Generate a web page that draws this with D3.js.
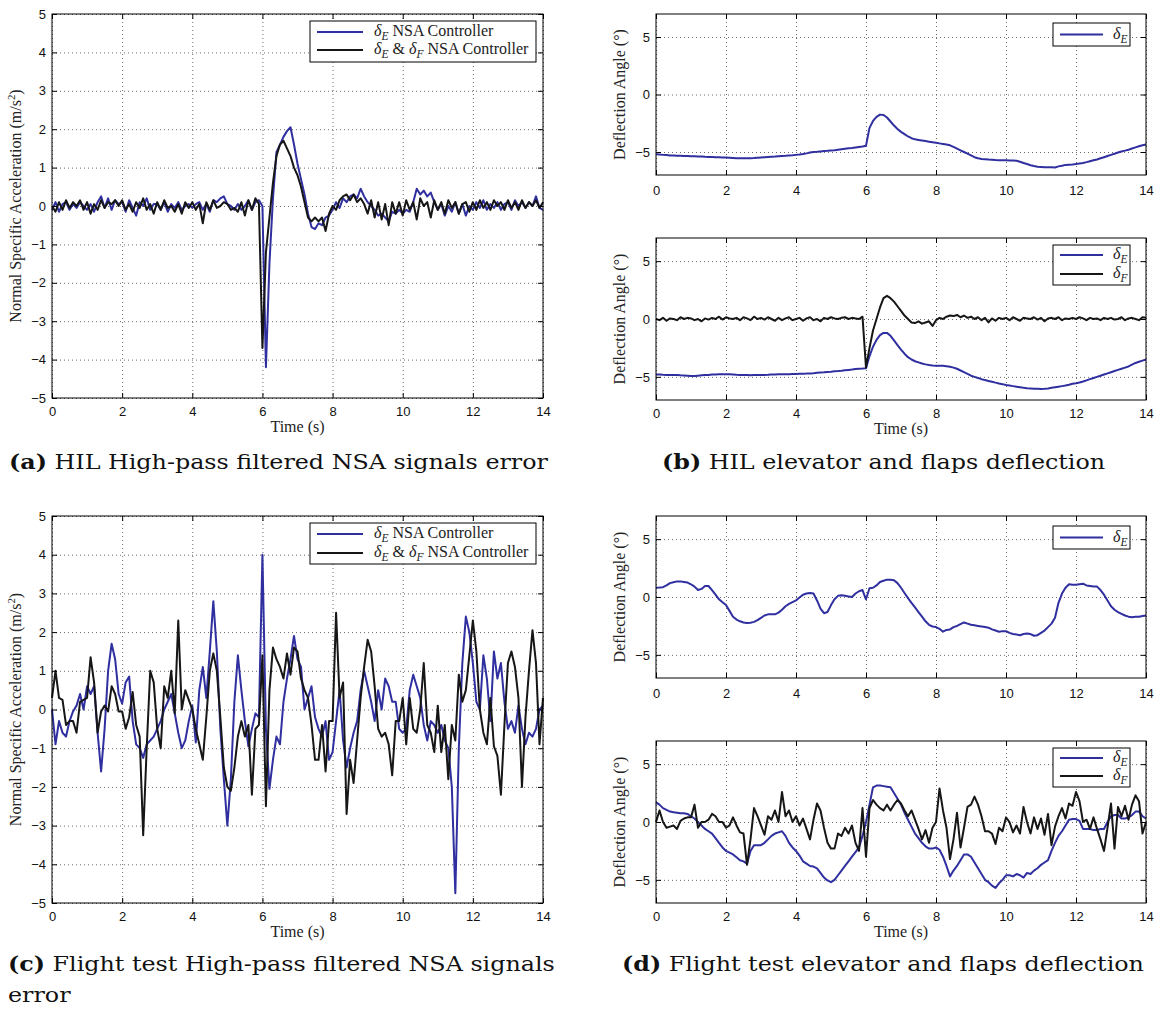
<!DOCTYPE html>
<html>
<head>
<meta charset="utf-8">
<script src="https://cdn.jsdelivr.net/npm/d3@7"></script>
<style>
  body { margin: 0; background: #fff; }
  svg { display: block; }
  .axis text { font-family: "Liberation Sans", Arial, sans-serif; font-size: 13px; fill: #111; }
  .axis line { stroke: #000; }
  .grid line { stroke: #6a6a6a; stroke-dasharray: 1,3; stroke-width: 1; }
  .lab { font-family: "Liberation Serif", "Times New Roman", serif; font-size: 16px; fill: #222; }
  .cap { font-family: "DejaVu Serif", serif; font-size: 20px; fill: #111; }
</style>
</head>
<body>
<svg id="fig" width="1160" height="1009"></svg>
<script>
// time axis: samples every 0.1 s from 0 to 14 s
const time = d3.range(141).map(i => i / 10);
const xTicks = [0, 2, 4, 6, 8, 10, 12, 14];

// (a) HIL high-pass filtered NSA error
const aBlue = [
  -0.1, 0.1, -0.15, 0.05, 0.1, -0.1, 0.05, -0.05, 0.1, 0.0,
  -0.1, 0.05, -0.15, 0.1, 0.25, -0.05, 0.2, -0.1, 0.15, 0.05,
  0.1, -0.15, 0.15, -0.05, -0.25, 0.1, 0.0, 0.2, -0.1, 0.05,
  0.05, -0.1, 0.1, -0.15, 0.05, -0.05, 0.1, -0.1, 0.0, 0.05,
  -0.05, 0.05, 0.1, -0.1, 0.05, -0.15, 0.15, 0.1, 0.2, 0.25,
  0.05, 0.0, -0.1, 0.05, -0.1, 0.0, 0.15, -0.1, 0.1, 0.15,
  0.0, -4.2, -1.5, 0.2, 1.4, 1.6, 1.8, 1.95, 2.05, 1.6,
  1.1, 0.7, 0.3, -0.2, -0.55, -0.6, -0.45, -0.5, -0.3, -0.25,
  -0.1, 0.1, -0.05, 0.2, 0.1, 0.25, 0.3, 0.2, 0.45, 0.25,
  0.1, 0.0, -0.1, -0.25, -0.2, -0.3, -0.4, -0.15, -0.2, -0.1,
  -0.2, -0.1, -0.15, 0.1, 0.45, 0.3, 0.4, 0.25, 0.35, 0.1,
  -0.1, 0.05, -0.25, 0.0, -0.15, 0.1, -0.2, 0.05, -0.25, 0.0,
  -0.1, 0.1, -0.05, 0.15, -0.1, 0.05, -0.05, 0.1, -0.1, 0.05,
  0.1, -0.1, 0.15, 0.0, 0.1, -0.05, 0.1, 0.0, 0.25, -0.05,
  -0.1
];
const aBlack = [
  0.0, -0.15, 0.1, -0.1, 0.15, -0.05, 0.1, 0.0, 0.15, -0.1,
  0.1, -0.2, 0.05, -0.1, 0.15, -0.05, 0.1, 0.05, 0.15, 0.0,
  0.15, -0.1, 0.05, -0.15, 0.1, -0.05, 0.2, -0.1, 0.05, -0.2,
  0.1, -0.1, 0.15, -0.05, 0.0, -0.15, 0.05, -0.2, 0.1, -0.05,
  0.1, -0.1, 0.05, -0.45, 0.1, -0.1, 0.15, -0.05, 0.0, 0.1,
  0.05, -0.1, -0.05, -0.15, 0.1, -0.25, 0.15, -0.1, 0.2, 0.05,
  -3.7, -1.2, -0.3, 0.6, 1.3, 1.6, 1.7, 1.5, 1.3, 1.0,
  0.8, 0.5, 0.1, -0.3, -0.4, -0.3, -0.4, -0.3, -0.65, -0.2,
  0.0, -0.1, 0.15, 0.25, 0.3, 0.15, 0.3, 0.1, 0.2, 0.05,
  -0.2, 0.15, -0.3, 0.1, -0.35, 0.05, -0.5, 0.1, -0.2, 0.1,
  -0.25, 0.15, -0.1, 0.1, -0.35, 0.2, 0.0, 0.1, -0.3, 0.15,
  -0.1, 0.1, -0.2, 0.15, -0.05, 0.1, -0.2, 0.05, 0.1, -0.15,
  0.1, -0.1, 0.15, -0.05, 0.1, -0.1, 0.15, 0.0, 0.1, -0.1,
  0.15, -0.05, 0.1, -0.1, 0.15, -0.05, 0.1, 0.0, 0.15, -0.05,
  0.1
];

// (b) HIL elevator / flaps deflection
const bTopElev = [
  -5.2, -5.22, -5.25, -5.27, -5.3, -5.3, -5.32, -5.33, -5.35, -5.35,
  -5.37, -5.38, -5.4, -5.4, -5.42, -5.43, -5.44, -5.45, -5.46, -5.47,
  -5.48, -5.5, -5.52, -5.55, -5.55, -5.55, -5.54, -5.54, -5.53, -5.5,
  -5.48, -5.46, -5.44, -5.42, -5.4, -5.37, -5.35, -5.33, -5.3, -5.28,
  -5.25, -5.22, -5.18, -5.12, -5.05, -5.0, -4.98, -4.95, -4.92, -4.9,
  -4.87, -4.84, -4.8, -4.76, -4.72, -4.68, -4.65, -4.6, -4.56, -4.52,
  -4.45, -2.9, -2.3, -1.95, -1.75, -1.78, -2.0, -2.35, -2.7, -3.0,
  -3.25, -3.45, -3.65, -3.8, -3.9, -3.95, -4.0, -4.05, -4.1, -4.15,
  -4.2, -4.25, -4.3, -4.35, -4.42, -4.55, -4.7, -4.85, -5.0, -5.15,
  -5.3, -5.45, -5.55, -5.6, -5.62, -5.65, -5.67, -5.7, -5.72, -5.72,
  -5.72, -5.73, -5.74, -5.76, -5.85, -5.95, -6.05, -6.15, -6.22, -6.28,
  -6.3, -6.32, -6.33, -6.33, -6.35, -6.25, -6.2, -6.12, -6.1, -6.08,
  -6.05, -6.0, -5.95, -5.88, -5.8, -5.72, -5.65, -5.55, -5.45, -5.35,
  -5.25, -5.15, -5.05, -4.95, -4.88, -4.8, -4.7, -4.6, -4.5, -4.42,
  -4.35
];
const bBotElev = [
  -4.8, -4.8, -4.82, -4.83, -4.83, -4.85, -4.85, -4.87, -4.88, -4.9,
  -4.92, -4.93, -4.9, -4.87, -4.85, -4.83, -4.8, -4.8, -4.78, -4.77,
  -4.77, -4.78, -4.8, -4.82, -4.83, -4.85, -4.85, -4.86, -4.85, -4.85,
  -4.84, -4.83, -4.82, -4.8, -4.8, -4.78, -4.78, -4.77, -4.77, -4.76,
  -4.75, -4.74, -4.73, -4.72, -4.7, -4.68, -4.65, -4.62, -4.6, -4.57,
  -4.55, -4.52, -4.5, -4.47, -4.43, -4.4, -4.37, -4.33, -4.3, -4.28,
  -4.25, -3.2, -2.4, -1.8, -1.4, -1.2, -1.2, -1.45, -1.85, -2.25,
  -2.65, -3.0, -3.3, -3.5, -3.65, -3.75, -3.85, -3.92, -3.98, -4.02,
  -4.05, -4.05, -4.05, -4.08, -4.12, -4.2, -4.3, -4.45, -4.6, -4.75,
  -4.9, -5.0, -5.1, -5.2, -5.28, -5.35, -5.42, -5.5, -5.57, -5.63,
  -5.7, -5.75, -5.8, -5.85, -5.9, -5.95, -5.98, -6.0, -6.02, -6.03,
  -6.05, -6.03, -6.0, -5.95, -5.9, -5.85, -5.8, -5.75, -5.68, -5.6,
  -5.55, -5.48, -5.4, -5.3, -5.2, -5.1, -5.0, -4.9, -4.8, -4.7,
  -4.6, -4.5, -4.4, -4.3, -4.2, -4.1, -3.95, -3.8, -3.7, -3.6,
  -3.5
];
const bBotFlap = [
  0.0, -0.1, 0.1, -0.15, 0.05, 0.0, -0.1, 0.15, 0.0, 0.1,
  0.05, -0.1, 0.0, -0.2, 0.05, -0.05, 0.1, 0.0, 0.2, -0.05,
  0.15, 0.05, 0.0, 0.1, -0.1, 0.15, 0.05, -0.1, 0.2, 0.0,
  0.1, -0.05, 0.15, 0.0, -0.15, 0.1, -0.1, 0.05, 0.15, -0.1,
  0.0, 0.1, -0.15, 0.05, 0.15, -0.1, 0.0, -0.2, 0.1, 0.0,
  0.15, 0.05, 0.0, 0.1, 0.15, 0.0, 0.1, 0.05, 0.0, 0.2,
  -4.2, -2.5, -1.0, 0.0, 1.0, 1.8, 2.0, 1.8, 1.5, 1.1,
  0.7, 0.3, 0.0, -0.3, -0.35, -0.2, -0.4, -0.3, -0.2, -0.6,
  -0.1, 0.1, 0.0, 0.2, 0.3, 0.25, 0.35, 0.15, 0.3, 0.1,
  0.2, 0.0, 0.15, -0.1, 0.1, -0.3, 0.05, -0.15, 0.1, 0.0,
  0.1, -0.1, 0.15, 0.0, -0.15, 0.1, 0.05, 0.0, 0.15, -0.05,
  0.1, -0.2, 0.05, 0.1, 0.0, 0.15, -0.1, 0.05, 0.0, 0.1,
  0.0, 0.15, 0.05, -0.1, 0.1, 0.0, 0.05, -0.1, 0.1, 0.0,
  0.1, -0.05, 0.0, 0.15, -0.1, 0.05, 0.1, 0.0, -0.1, 0.15,
  0.1
];

// (c) flight test high-pass filtered NSA error
const cBlue = [
  0.0, -0.9, -0.3, -0.6, -0.7, -0.3, -0.05, 0.1, 0.4, 0.0,
  0.6, 0.4, 0.6, -0.6, -1.6, -0.5, 1.0, 1.7, 1.3, 0.4,
  0.15, 0.7, 0.85, -0.3, -0.9, -1.0, -1.25, -0.9, -0.8, -0.7,
  -0.5, -0.3, 0.0, 0.2, 0.4, -0.1, -0.6, -1.0, -0.8, -0.3,
  0.1, -0.85, 0.5, 1.1, 0.3, 1.5, 2.8, 1.5, -0.5, -1.8,
  -3.0, -1.8, 0.2, 1.4, 0.5, -0.3, -0.95, -0.5, -0.1, -0.2,
  4.0, -0.5, -2.05, -1.3, -0.7, -0.9, 0.2, 0.8, 1.3, 1.9,
  1.3, 1.1, 0.0, 0.3, 0.6, -0.2, -0.5, -0.7, -0.3, -1.3,
  -1.1, -0.3, 0.5, -0.8, -1.5, -1.0, -0.6, -0.3, 0.5, 1.0,
  0.6, 0.2, -0.3, 0.5, 0.0, 0.8, 0.6, 0.2, 0.2, -0.5,
  -0.6, -0.5, 0.5, 0.9, 0.6, 0.3, -0.4, -0.8, -0.3, -0.4,
  -0.6, -0.4, -0.8, -1.0, -2.0, -4.75, -1.0, 1.2, 2.4, 2.0,
  1.2, 0.2, 0.0, 1.4, 0.8, -0.3, 1.5, 0.8, 1.2, 0.2,
  -0.5, -0.3, -0.6, 0.1, -0.5, -0.9, -0.6, -0.7, -0.5, 0.0,
  0.1
];
const cBlack = [
  0.3, 1.0, 0.3, 0.25, -0.4, -0.3, -0.3, -0.6, 0.2, 0.25,
  0.3, 1.35, 0.7, -0.6, -0.05, 0.1, -0.05, 0.6, 0.4, -0.05,
  -0.05, -0.5, -0.2, 0.45, -0.4, -0.7, -3.25, -1.0, 1.0, 0.7,
  -0.5, -1.0, 0.6, 0.3, 1.0, -0.1, 2.3, 0.0, 0.5, 0.25,
  0.0, -0.5, -0.9, -1.3, -0.2, 1.0, 1.45, 1.0, -0.2, -1.5,
  -2.0, -2.1, -1.5, -0.7, -0.3, -0.7, -0.4, -2.2, -0.5, -0.4,
  1.4, -2.5, 0.5, 1.6, 1.3, 1.1, 0.8, 1.45, 0.9, 1.6,
  1.5, 0.8, 0.5, 0.3, -0.4, -1.3, -1.3, -0.4, -1.6, -0.3,
  -0.3, 2.5, 0.3, 0.7, -2.7, -1.3, -1.9, -0.8, 0.3, 1.1,
  1.8, 1.5, 0.6, -0.5, -0.7, -0.6, -0.9, -1.7, -0.3, -0.3,
  0.3, -0.9, 0.3, -0.5, -0.6, 0.0, 1.2, -0.4, -0.6, -1.1,
  0.1, -1.1, -0.4, -1.8, -0.4, -0.8, 0.9, 0.2, 0.5, 1.4,
  2.3, 1.5, 0.0, -0.6, -0.9, 0.3, -0.95, -1.2, -2.2, -0.4,
  1.2, 1.5, 1.1, 0.3, -2.0, -0.2, 1.0, 2.05, 1.2, -0.9,
  0.3
];

// (d) flight test elevator / flaps deflection
const dTopElev = [
  0.8, 0.82, 0.85, 1.0, 1.2, 1.28, 1.35, 1.35, 1.3, 1.25,
  1.1, 0.9, 0.6, 0.7, 0.95, 0.95, 0.6, 0.2, -0.2, -0.45,
  -0.7, -1.2, -1.7, -1.95, -2.1, -2.2, -2.25, -2.22, -2.15, -2.0,
  -1.8, -1.6, -1.5, -1.48, -1.5, -1.35, -1.1, -0.8, -0.6, -0.45,
  -0.3, -0.05, 0.2, 0.3, 0.35, 0.3, -0.3, -1.0, -1.4, -1.3,
  -0.7, -0.2, 0.1, 0.15, 0.1, 0.05, 0.0, 0.3, 0.5, 0.6,
  -0.2, 0.75, 0.8, 1.0, 1.3, 1.4, 1.5, 1.5, 1.45, 1.2,
  0.8, 0.35, -0.1, -0.5, -0.9, -1.3, -1.7, -2.1, -2.4, -2.55,
  -2.6, -2.75, -3.0, -2.85, -2.8, -2.6, -2.5, -2.35, -2.2, -2.3,
  -2.4, -2.45, -2.5, -2.55, -2.6, -2.65, -2.8, -2.9, -3.0, -2.95,
  -2.95, -3.1, -3.2, -3.25, -3.3, -3.2, -3.15, -3.2, -3.35, -3.3,
  -3.1, -2.9, -2.6, -2.3, -1.8, -0.5, 0.3, 0.8, 1.1, 1.05,
  1.05, 1.1, 1.15, 1.0, 0.95, 0.9, 0.9, 0.6, 0.2, -0.3,
  -0.8, -1.1, -1.3, -1.45, -1.6, -1.7, -1.75, -1.7, -1.7, -1.65,
  -1.6
];
const dBotElev = [
  1.7, 1.5, 1.2, 1.05, 0.9, 0.85, 0.8, 0.75, 0.75, 0.7,
  0.5, 0.3, 0.0, -0.3, -0.6, -0.8, -1.0, -1.4, -1.8, -2.2,
  -2.5, -2.65, -2.8, -3.05, -3.3, -3.4, -3.6, -2.5, -2.0, -2.0,
  -2.0, -1.8, -1.5, -1.2, -1.0, -0.9, -0.8, -1.2, -1.8, -2.2,
  -2.5, -2.9, -3.4, -3.6, -3.8, -3.85, -4.0, -4.4, -4.8, -5.05,
  -5.2, -5.0, -4.6, -4.2, -3.8, -3.4, -3.0, -2.6, -2.2, -1.2,
  0.0, 1.5, 3.0, 3.15, 3.15, 3.1, 3.05, 3.0, 2.5, 2.0,
  1.5, 0.8, 0.2, -0.4, -1.0, -1.4, -1.8, -2.1, -2.3, -2.3,
  -2.2, -2.4, -3.0, -3.8, -4.7, -4.2, -3.8, -3.3, -2.8, -2.8,
  -3.0, -3.5, -4.0, -4.5, -5.0, -5.2, -5.5, -5.7, -5.3, -5.0,
  -4.6, -4.6, -4.7, -4.5, -4.6, -4.8, -4.4, -4.5, -4.2, -4.0,
  -3.7, -3.5, -3.3, -2.5, -1.8, -1.2, -0.8, -0.3, 0.2, 0.25,
  0.25, 0.1, -0.6, -0.6, -0.6, -0.7, -0.7, -0.6, -0.6, 0.0,
  0.5, 0.6, 0.6, 0.3, 0.3, 0.4, 0.6, 0.9, 0.9, 0.5,
  0.3
];
const dBotFlap = [
  0.0, 1.0, 0.0, -0.5, -0.4, -0.3, -0.6, 0.1, 0.3, 0.4,
  0.4, 1.5, -0.5, 0.0, 0.0, 0.2, 0.7, 0.5, 0.0, 0.0,
  -0.5, -0.3, 0.4, -0.3, -0.9, -1.0, -3.7, -1.5, 1.2, 0.5,
  -0.3, -1.1, 0.5, 0.2, 1.0, 0.0, 2.6, 0.5, 1.0, 0.0,
  0.5, -0.3, 0.3, -0.6, -1.5, 0.2, 1.6, 1.0, -0.5, -1.8,
  -2.3, -2.3, -1.0, -1.2, -0.5, -1.0, -0.3, -1.8, -2.5, 1.2,
  -3.0, 1.2, 1.9, 1.5, 1.2, 1.0, 1.5, 1.0, 1.5, 1.9,
  1.6, 1.0, 0.5, 1.0, 0.2, -0.6, -1.5, -0.7, -1.8, -0.5,
  0.0, 2.9, 1.0, -0.5, -3.2, -1.5, 0.8, -2.2, -0.5, 1.3,
  1.5, 2.2, 1.5, 0.5, -0.8, -0.8, -1.0, -1.9, -0.5, -0.8,
  0.4, 0.0, -0.9, -0.3, -1.0, 1.3, 0.0, -1.0, 0.4, -0.6,
  0.3, -1.1, 0.7, -2.0, -0.4, 0.5, 1.2, 0.3, 1.6, 1.4,
  2.6, 1.8, 0.0, 0.2, -0.6, 0.4, -0.6, -1.5, -2.5, -0.5,
  1.6, -2.3, 1.3, 0.5, 1.4, 0.2, 1.5, 2.3, 1.8, -1.0,
  0.0
];

const BLUE = "#2f2fa0";
const BLACK = "#161616";

// legend label pieces: [text, kind]  kind: "i" italic, "sub" italic subscript
const lblE = [["δ", "i"], ["E", "sub"]];
const lblF = [["δ", "i"], ["F", "sub"]];
const lblNsaE = [["δ", "i"], ["E", "sub"], [" NSA Controller", ""]];
const lblNsaEF = [["δ", "i"], ["E", "sub"], [" & ", ""], ["δ", "i"], ["F", "sub"], [" NSA Controller", ""]];

const accLabel = [["Normal Specific Acceleration (m/s", ""], ["2", "sup"], [")", ""]];
const angLabel = [["Deflection Angle (°)", ""]];

const panels = [
  { left: 52, top: 14, width: 491, height: 384, yDomain: [-5, 5], yTicks: d3.range(-5, 6), xPad: 9,
    series: [{ v: aBlue, c: BLUE }, { v: aBlack, c: BLACK }], ylabel: accLabel, xlabel: true,
    legend: { x: 258, y: 7, w: 226, h: 41, rows: [18, 36], lx: [265, 311], tx: 322, items: [[lblNsaE, BLUE], [lblNsaEF, BLACK]] } },
  { left: 656, top: 14, width: 490, height: 161, yDomain: [-7, 7], yTicks: [-5, 0, 5], xPad: 11,
    series: [{ v: bTopElev, c: BLUE }], ylabel: angLabel, xlabel: false,
    legend: { x: 397, y: 9, w: 77, h: 23, rows: [20.5], lx: [404, 447], tx: 457, items: [[lblE, BLUE]] } },
  { left: 656, top: 238, width: 490, height: 162, yDomain: [-7, 7], yTicks: [-5, 0, 5], xPad: 9,
    series: [{ v: bBotElev, c: BLUE }, { v: bBotFlap, c: BLACK }], ylabel: angLabel, xlabel: true,
    legend: { x: 397, y: 7, w: 77, h: 40, rows: [17, 36], lx: [404, 447], tx: 457, items: [[lblE, BLUE], [lblF, BLACK]] } },
  { left: 52, top: 516, width: 491, height: 387, yDomain: [-5, 5], yTicks: d3.range(-5, 6), xPad: 9,
    series: [{ v: cBlue, c: BLUE }, { v: cBlack, c: BLACK }], ylabel: accLabel, xlabel: true,
    legend: { x: 258, y: 7, w: 226, h: 41, rows: [18, 37], lx: [265, 311], tx: 322, items: [[lblNsaE, BLUE], [lblNsaEF, BLACK]] } },
  { left: 656, top: 516, width: 490, height: 162, yDomain: [-7, 7], yTicks: [-5, 0, 5], xPad: 11,
    series: [{ v: dTopElev, c: BLUE }], ylabel: angLabel, xlabel: false,
    legend: { x: 397, y: 10, w: 77, h: 23, rows: [21.5], lx: [404, 447], tx: 457, items: [[lblE, BLUE]] } },
  { left: 656, top: 741, width: 490, height: 162, yDomain: [-7, 7], yTicks: [-5, 0, 5], xPad: 9,
    series: [{ v: dBotElev, c: BLUE }, { v: dBotFlap, c: BLACK }], ylabel: angLabel, xlabel: true,
    legend: { x: 397, y: 7, w: 77, h: 39, rows: [17, 35], lx: [404, 447], tx: 457, items: [[lblE, BLUE], [lblF, BLACK]] } }
];

const captions = [
  { x: 9, y: 469, tag: "(a)", text: " HIL High-pass filtered NSA signals error" },
  { x: 662, y: 469, tag: "(b)", text: " HIL elevator and flaps deflection" },
  { x: 8, y: 971, tag: "(c)", text: " Flight test High-pass filtered NSA signals" },
  { x: 8, y: 1002, tag: "", text: "error" },
  { x: 622, y: 971, tag: "(d)", text: " Flight test elevator and flaps deflection" }
];
// caption glyphs in the figure are a little wider than DejaVu Serif at this size
const captionStretch = 1.19;

const svg = d3.select("#fig");

function richText(sel, parts, baseSize) {
  let shift = 0;
  parts.forEach(([s, kind]) => {
    const t = sel.append("tspan").text(s);
    let target = 0;
    if (kind === "i") t.style("font-style", "italic");
    if (kind === "sub") { t.style("font-style", "italic").attr("font-size", baseSize * 0.72); target = 4; }
    if (kind === "sup") { t.attr("font-size", baseSize * 0.68); target = -6; }
    if (target !== shift) { t.attr("dy", target - shift); shift = target; }
  });
}

function drawPanel(p) {
  const g = svg.append("g").attr("transform", `translate(${p.left},${p.top})`);
  const x = d3.scaleLinear().domain([0, 14]).range([0, p.width]);
  const y = d3.scaleLinear().domain(p.yDomain).range([p.height, 0]);

  // dotted grid
  g.append("g").attr("class", "grid")
    .call(d3.axisBottom(x).tickValues(xTicks).tickSize(p.height).tickFormat(""))
    .call(s => s.select(".domain").remove());
  g.append("g").attr("class", "grid")
    .call(d3.axisRight(y).tickValues(p.yTicks).tickSize(p.width).tickFormat(""))
    .call(s => s.select(".domain").remove());

  const line = d3.line().x((d, i) => x(time[i])).y(d => y(d));
  p.series.forEach(s => {
    g.append("path").datum(s.v)
      .attr("d", line)
      .attr("fill", "none")
      .attr("stroke", s.c)
      .attr("stroke-width", 2)
      .attr("stroke-linejoin", "round");
  });

  g.append("rect").attr("width", p.width).attr("height", p.height)
    .attr("fill", "none").attr("stroke", "#000").attr("stroke-width", 1);

  // inward ticks on all four sides (matlab style)
  g.append("g").attr("class", "axis").attr("transform", `translate(0,${p.height})`)
    .call(d3.axisBottom(x).tickValues(xTicks).tickSizeInner(-5).tickSizeOuter(0).tickPadding(p.xPad))
    .call(s => s.select(".domain").remove());
  g.append("g").attr("class", "axis")
    .call(d3.axisLeft(y).tickValues(p.yTicks).tickSizeInner(-5).tickSizeOuter(0).tickPadding(6))
    .call(s => s.select(".domain").remove());
  g.append("g").attr("class", "axis")
    .call(d3.axisTop(x).tickValues(xTicks).tickSizeInner(-5).tickSizeOuter(0).tickFormat(""))
    .call(s => s.select(".domain").remove());
  g.append("g").attr("class", "axis").attr("transform", `translate(${p.width},0)`)
    .call(d3.axisRight(y).tickValues(p.yTicks).tickSizeInner(-5).tickSizeOuter(0).tickFormat(""))
    .call(s => s.select(".domain").remove());

  // axis labels
  const yl = g.append("text").attr("class", "lab")
    .attr("text-anchor", "middle")
    .attr("transform", `translate(-31,${p.height / 2}) rotate(-90)`);
  richText(yl, p.ylabel, 16);
  if (p.xlabel) {
    g.append("text").attr("class", "lab")
      .attr("text-anchor", "middle")
      .attr("x", p.width / 2).attr("y", p.height + 34)
      .text("Time (s)");
  }

  // legend
  const L = p.legend;
  const lg = g.append("g");
  lg.append("rect").attr("x", L.x).attr("y", L.y).attr("width", L.w).attr("height", L.h)
    .attr("fill", "#fff").attr("stroke", "#000").attr("stroke-width", 1);
  L.items.forEach(([parts, col], i) => {
    const ry = L.rows[i];
    lg.append("line").attr("x1", L.lx[0]).attr("x2", L.lx[1]).attr("y1", ry).attr("y2", ry)
      .attr("stroke", col).attr("stroke-width", 2);
    const t = lg.append("text").attr("class", "lab").attr("x", L.tx).attr("y", ry + 4);
    richText(t, parts, 16);
  });
}

panels.forEach(drawPanel);

captions.forEach(c => {
  const t = svg.append("text").attr("class", "cap")
    .attr("transform", `translate(${c.x},${c.y}) scale(${captionStretch},1)`);
  if (c.tag) t.append("tspan").attr("font-weight", "bold").text(c.tag);
  t.append("tspan").text(c.text);
});
</script>
</body>
</html>
